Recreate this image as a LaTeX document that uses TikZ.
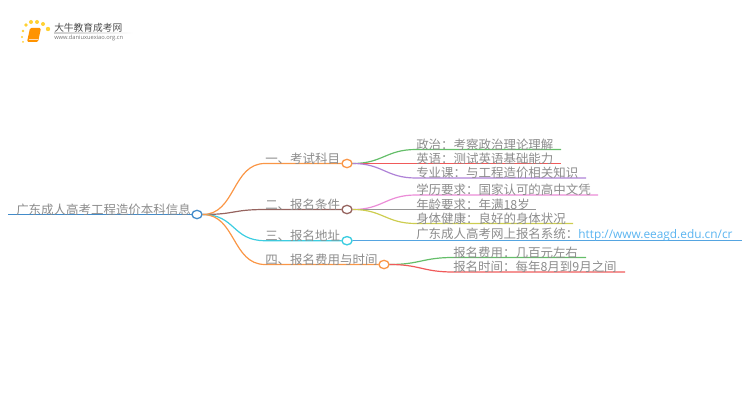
\documentclass[tikz,border=0pt]{standalone}
\usepackage{xcolor}
\usepackage{fontspec}
\setmainfont{Noto Sans CJK SC}
\newfontfamily\urlfont{Open Sans}
\usetikzlibrary{arrows.meta,shapes,positioning,calc}
\definecolor{rootblue}{RGB}{66,139,202}
\definecolor{branchorange}{RGB}{250,150,70}
\definecolor{branchbrown}{RGB}{150,100,95}
\definecolor{branchcyan}{RGB}{60,205,225}
\definecolor{leafgreen}{RGB}{100,190,105}
\definecolor{leafred}{RGB}{240,90,90}
\definecolor{leafpurple}{RGB}{175,130,215}
\definecolor{leafpink}{RGB}{235,140,215}
\definecolor{leafgray}{RGB}{150,150,150}
\definecolor{leafyellow}{RGB}{205,205,80}
\definecolor{leafblue}{RGB}{85,165,225}
\definecolor{urlblue}{RGB}{90,180,240}
\definecolor{labelgray}{RGB}{140,140,140}
\tikzset{
    label text/.style={font=\fontsize{9.35pt}{10pt}\selectfont, text=labelgray, anchor=south west, inner xsep=0pt, inner ysep=0pt, yshift=-0.7pt},
    hub/.style={ellipse, draw=#1, fill=white, line width=1pt, minimum width=7.6pt, minimum height=6.2pt, inner sep=0pt},
    link/.style={line width=0.9pt}
}
\begin{document}
\begin{tikzpicture}[x=0.75pt,y=-0.75pt]
\useasboundingbox (0,0) rectangle (750,410);

% Logo
\fill[orange!85!yellow, rounded corners=1pt] (30,28) -- (41,28) -- (38,42) -- (27,42) -- cycle;
\draw[orange!30, line width=0.4pt] (29,39.5) -- (38,39.5);
\foreach \x/\y/\r in {26/25/1.8,31/22/2,37/22/2,43/24/2,48/29/2.2,23/31/1.4,22/37/1.2,23/42/1} {
    \fill[orange!45!yellow!80!white] (\x,\y) circle (\r);
}
\node[font=\fontsize{7.3pt}{8pt}\selectfont, text=black!70, anchor=west, inner sep=0pt] (logotitle) at (54,27.5) {大牛教育成考网};
\node[font=\urlfont\fontsize{4.3pt}{5pt}\selectfont, text=black!55, anchor=west, inner sep=0pt] (logourl) at (54,38.5) {www.daniuxuexiao.org.cn};
\fill[left color=black!20, right color=white] (54,33) rectangle (133,33.8);

% Root
\coordinate (rootstart) at (8,214.5);
\draw[rootblue, link] (rootstart) -- (197,214.5);
\node[hub=rootblue] (root) at (197,214.5) {};
\node[label text] (roottext) at (16,214.5) {广东成人高考工程造价本科信息};

% Branches
\foreach \name/\ypos/\xhub/\col/\txt in {
    a/163.5/347/branchorange/一、考试科目,
    b/209.5/347/branchbrown/二、报名条件,
    c/240.7/347/branchcyan/三、报名地址,
    d/264.5/384/branchorange/四、报名费用与时间} {
    \coordinate (\name start) at (265,\ypos);
    \node[hub=\col] (\name) at (\xhub,\ypos) {};
    \draw[\col, link] (root.east) .. controls ($(root.east)+(33,0)$) and ($(\name start)+(-33,0)$) .. (\name start) -- (\name.west);
    \node[label text] (\name text) at (\name start) {\txt};
}

% Leaves
\foreach \name/\from/\xstart/\ypos/\xend/\col/\txt in {
    a1/a/416/149.5/561/leafgreen/政治：考察政治理论理解,
    a2/a/416/163.5/561/leafred/英语：测试英语基础能力,
    a3/a/416/178/586/leafpurple/专业课：与工程造价相关知识,
    b1/b/416/195/598/leafpink/学历要求：国家认可的高中文凭,
    b2/b/416/209.5/536/leafgray/年龄要求：年满18岁,
    b3/b/416/223.5/573/leafyellow/身体健康：良好的身体状况,
    d1/d/453/257.5/586/leafgreen/报名费用：几百元左右,
    d2/d/453/272/625/leafred/报名时间：每年8月到9月之间} {
    \coordinate (\name start) at (\xstart,\ypos);
    \coordinate (\name end) at (\xend,\ypos);
    \draw[\col, link] (\from.east) .. controls ($(\from.east)+(30,0)$) and ($(\name start)+(-30,0)$) .. (\name start) -- (\name end);
    \node[label text] (\name text) at (\name start) {\txt};
}

% Address with link
\coordinate (c1start) at (416,240.7);
\coordinate (c1end) at (742,240.7);
\draw[leafblue, link] (c.east) -- (c1start) -- (c1end);
\node[label text] (c1text) at (c1start) {广东成人高考网上报名系统：{\urlfont\fontsize{8.9pt}{10pt}\selectfont\color{urlblue}http://www.eeagd.edu.cn/cr}};
\end{tikzpicture}
\end{document}
